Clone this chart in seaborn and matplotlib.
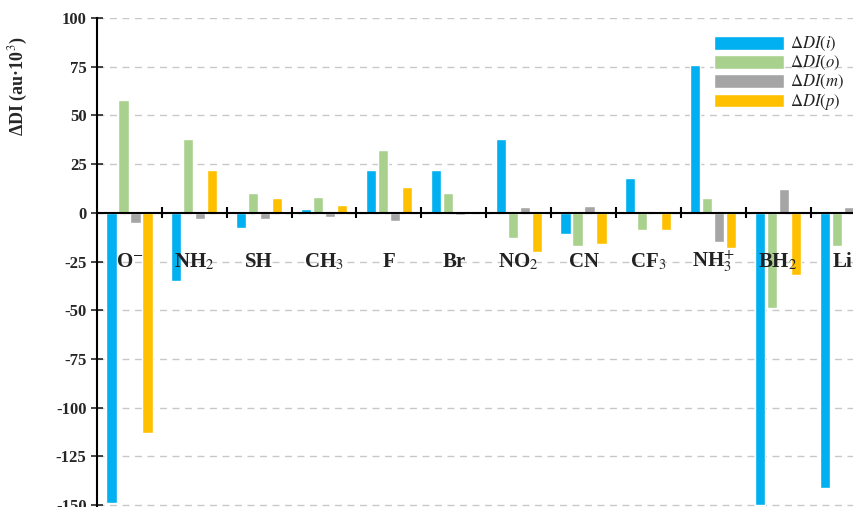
import numpy as np
import pandas as pd
import seaborn as sns
import matplotlib.pyplot as plt

groups = ['O$^{-}$', 'NH$_2$', 'SH', 'CH$_3$', 'F', 'Br', 'NO$_2$', 'CN', 'CF$_3$',
          'NH$_3^{+}$', 'BH$_2$', 'Li']
di_i = [-149, -35, -8, 2, 22, 22, 38, -11, 18, 76, -150, -141]
di_o = [58, 38, 10, 8, 32, 10, -13, -17, -9, 7.5, -49, -17]
di_m = [-5, -3, -3, -2, -4, -1, 3, 3.5, 0, -15, 12, 3]
di_p = [-113, 22, 7.5, 4, 13.5, 1, -20, -16, -9, -18, -32, 1.5]
series = [r'$\Delta DI(i)$', r'$\Delta DI(o)$', r'$\Delta DI(m)$', r'$\Delta DI(p)$']
colors = ['#00b0f0', '#a9d18e', '#a5a5a5', '#ffc000']

rows = []
for s, vals in zip(series, [di_i, di_o, di_m, di_p]):
    for g, v in zip(groups, vals):
        rows.append({'group': g, 'series': s, 'value': v})
df = pd.DataFrame(rows)

sns.set_style('white')
plt.rcParams['font.family'] = ['Liberation Serif', 'DejaVu Serif']
plt.rcParams['mathtext.fontset'] = 'stix'
plt.rcParams['axes.unicode_minus'] = False

fig = plt.figure(figsize=(8.54, 5.07), dpi=100)
ax = fig.add_axes([97 / 854, 0, 757 / 854, 489 / 507])
sns.barplot(data=df, x='group', y='value', hue='series', palette=colors, saturation=1,
            width=0.74, gap=0.15, ax=ax, zorder=3)

ax.set_xlim(-0.5, 11.17)
ax.set_ylim(-151, 100)
ax.set_yticks(np.arange(-150, 101, 25))
ax.tick_params(axis='y', direction='inout', length=8, width=1.2, labelsize=12, left=True)
for t in ax.get_yticklabels():
    t.set_fontweight('bold')
ax.yaxis.grid(True, linestyle=(0, (5, 4)), color='#c8c8c8', linewidth=1)
ax.set_axisbelow(True)
ax.set_xticks([])
ax.set_xlabel('')
ax.set_ylabel('ΔDI (au·10$^3$)', fontsize=13, fontweight='bold')
ax.yaxis.set_label_coords(-0.088, 0.86)
for side in ['top', 'right', 'bottom']:
    ax.spines[side].set_visible(False)
ax.spines['left'].set_linewidth(1.5)
ax.spines['left'].set_color('black')

ax.axhline(0, color='black', linewidth=1.5, zorder=4)
bounds = np.arange(len(groups)) + 0.5
ax.vlines(bounds, -2.8, 2.8, color='black', linewidth=1.5, zorder=4)

for k, g in enumerate(groups):
    ax.text(k, -25, g, ha='center', va='center', fontsize=15, fontweight='bold',
            color='#222222', zorder=5)

leg = ax.legend(loc='upper right', bbox_to_anchor=(1.0, 0.985), frameon=False,
                fontsize=12, handlelength=4.2, handleheight=0.9, labelspacing=0.05,
                handletextpad=0.4, borderaxespad=0.2)
for t in leg.get_texts():
    t.set_color('#222222')

fig.savefig('out.png', dpi=100)
